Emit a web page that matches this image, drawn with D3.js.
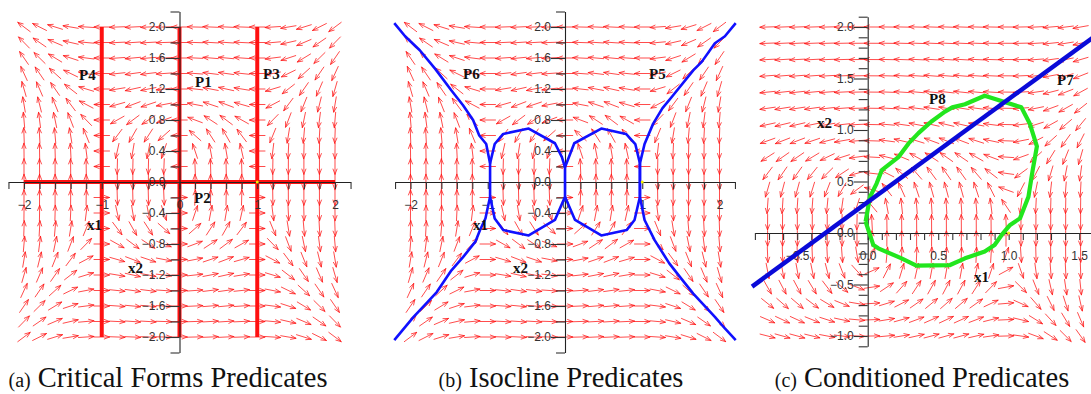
<!DOCTYPE html>
<html><head><meta charset="utf-8">
<script src="https://cdn.jsdelivr.net/npm/d3@7"></script>
<style>body{margin:0;background:#fff}svg{display:block}</style>
</head><body>
<svg id="chart" width="1091" height="394"></svg>
<script>
// ---------- DATA ----------
// Panels (a) and (b): direction field on a 21x21 grid
const rowsAB = [2.0,1.8,1.6,1.4,1.2,1.0,0.8,0.6,0.4,0.2,0,-0.2,-0.4,-0.6,-0.8,-1.0,-1.2,-1.4,-1.6,-1.8,-2.0];
const colsAB = [-2.0,-1.8,-1.6,-1.4,-1.2,-1.0,-0.8,-0.6,-0.4,-0.2,0,0.2,0.4,0.6,0.8,1.0,1.2,1.4,1.6,1.8,2.0];
// horizontal component of each row, vertical component of each column
const uAB = [-8,-5.832,-4.096,-2.744,-1.728,-1,-0.512,-0.216,-0.064,-0.008,0,0.008,0.064,0.216,0.512,1,1.728,2.744,4.096,5.832,8];
const vAB = [6,4.032,2.496,1.344,0.528,0,-0.288,-0.384,-0.336,-0.192,0,0.192,0.336,0.384,0.288,0,-0.528,-1.344,-2.496,-4.032,-6];

// Panel (c): direction field grid
const rowsC = [-1.0,-0.842,-0.684,-0.526,-0.368,-0.211,-0.053,0.105,0.263,0.421,0.579,0.737,0.895,1.053,1.211,1.368,1.526,1.684,1.842,2.0];
const uC = [1.0,0.597,0.320,0.146,0.050,0.0093,0.00015,-0.0012,-0.0182,-0.0747,-0.194,-0.400,-0.716,-1.166,-1.774,-2.562,-3.556,-4.777,-6.251,-8.0];
const colsC = [-0.71,-0.604,-0.499,-0.393,-0.287,-0.182,-0.076,0.030,0.136,0.241,0.347,0.453,0.558,0.664,0.770,0.875,0.981,1.087,1.193,1.298,1.404,1.510];
const vC = [-0.352,-0.384,-0.375,-0.332,-0.263,-0.176,-0.0756,0.030,0.1335,0.227,0.305,0.360,0.384,0.371,0.3135,0.205,0.037,-0.197,-0.505,-0.889,-1.364,-1.933];

// Panel (a): critical forms (vertical lines x1 = c, horizontal line x2 = 0)
const critX1 = [-1, 0, 1];
const critX2 = [0];
const critExtent = [-2, 2];

// Panel (b): isocline curves
const isoLeftOuter = [[-2.21,2.05],[-2.07,1.88],[-1.88,1.70],[-1.68,1.46],[-1.47,1.18],[-1.32,0.99],[-1.19,0.80],[-1.11,0.60],[-1.02,0.49],[-0.97,0.24],[-0.97,-0.19],[-1.03,-0.47],[-1.10,-0.62],[-1.16,-0.77],[-1.32,-0.97],[-1.47,-1.14],[-1.66,-1.42],[-1.78,-1.55],[-1.96,-1.74],[-2.21,-2.04]];
const isoLeftLoop = [[-0.97,0.24],[-0.91,0.49],[-0.80,0.62],[-0.47,0.69],[-0.13,0.50],[-0.04,0.32],[0,0.19],[0,-0.19],[-0.13,-0.49],[-0.47,-0.69],[-0.80,-0.62],[-0.91,-0.47],[-0.97,-0.19]];
const isoRightLoop = [[0,0.19],[0.12,0.50],[0.47,0.69],[0.79,0.62],[0.91,0.49],[0.97,0.24],[0.97,-0.19],[0.90,-0.49],[0.80,-0.62],[0.47,-0.69],[0.13,-0.49],[0,-0.19]];
const isoRightOuter = [[2.21,2.05],[2.07,1.88],[1.94,1.79],[1.77,1.55],[1.66,1.44],[1.40,1.12],[1.26,0.95],[1.14,0.75],[1.03,0.49],[0.97,0.24],[0.97,-0.19],[1.03,-0.49],[1.16,-0.75],[1.35,-1.05],[1.50,-1.24],[1.66,-1.44],[1.94,-1.74],[2.07,-1.89],[2.21,-2.04]];

// Panel (c): conditioned predicates
const lineP7 = [[-0.82,-0.52],[1.66,1.96]];
const curveP8 = [[-0.015,0.11],[0.016,0.35],[0.063,0.48],[0.10,0.61],[0.22,0.74],[0.29,0.87],[0.36,0.97],[0.45,1.08],[0.548,1.178],[0.60,1.22],[0.69,1.25],[0.83,1.333],[1.09,1.22],[1.15,1.06],[1.20,0.84],[1.17,0.61],[1.14,0.352],[1.08,0.142],[1.01,0.078],[0.95,-0.019],[0.90,-0.117],[0.83,-0.18],[0.69,-0.246],[0.584,-0.311],[0.345,-0.317],[0.24,-0.246],[0.075,-0.149],[0.04,-0.117],[-0.015,0.11]];

const eqPoint = [1, 0];

// ---------- LAYOUT ----------
const svg = d3.select("#chart");
const serif = "'Liberation Serif','Times New Roman',serif";
const sans = "'Liberation Sans',Arial,sans-serif";
const RED = "#ff1010";

const panels = [
  { id:"a", x:d3.scaleLinear([-2,2],[24,335]), y:d3.scaleLinear([-2,2],[337,27]),
    xAxisExt:[-2.2,2.2], yAxisExt:[-2.2,2.2], xStep:0.2, yStep:0.2, xMajor:1, yMajor:0.4, xLim:2, yLim:2, xFmt:d3.format("d"), yFmt:d3.format(".1f"),
    rows:rowsAB, cols:colsAB, U:uAB, V:vAB,
    labels:[["P4",79,80],["P1",195,87],["P3",263,79],["P2",194,203],["x1",87,230],["x2",128,273]],
    caption:["(a)"," Critical Forms Predicates"], capX:168 },
  { id:"b", x:d3.scaleLinear([-2,2],[410.5,719.5]), y:d3.scaleLinear([-2,2],[337,27]),
    xAxisExt:[-2.2,2.2], yAxisExt:[-2.2,2.2], xStep:0.2, yStep:0.2, xMajor:1, yMajor:0.4, xLim:2, yLim:2, xFmt:d3.format("d"), yFmt:d3.format(".1f"),
    rows:rowsAB, cols:colsAB, U:uAB, V:vAB,
    labels:[["P6",463,79],["P5",649,79],["x1",473,230],["x2",513,273]],
    caption:["(b)"," Isocline Predicates"], capX:561 },
  { id:"c", x:d3.scaleLinear([0,1],[867.7,1008.7]), y:d3.scaleLinear([0,1],[233,130]),
    xAxisExt:[-0.8,1.6], yAxisExt:[-1.1,2.1], xStep:0.1, yStep:0.1, xMajor:0.5, yMajor:0.5, xLim:1.5, yLim:2, xFmt:d3.format(".1f"), yFmt:d3.format(".1f"),
    rows:rowsC, cols:colsC, U:uC, V:vC,
    labels:[["P7",1057,85],["P8",929,104],["x2",817,128],["x1",974,282]],
    caption:["(c)"," Conditioned Predicates"], capX:922 }
];

const ARROW_LEN = 15.5;

function drawField(g, p) {
  const paths = [];
  p.rows.forEach((yv, i) => {
    p.cols.forEach((xv, j) => {
      const u = p.U[i], v = p.V[j];
      if (u === 0 && v === 0) return;
      const cx = p.x(xv), cy = p.y(yv);
      const e = 1e-3 / Math.hypot(u, v);
      let dx = p.x(xv + e*u) - cx, dy = p.y(yv + e*v) - cy;
      const n = Math.hypot(dx, dy); dx /= n; dy /= n;
      const h = ARROW_LEN/2;
      const tx = cx + dx*h, ty = cy + dy*h;
      const sx = cx - dx*h, sy = cy - dy*h;
      const hl = 5.2, hw = 2.0;
      const bx = tx - dx*hl, by = ty - dy*hl;
      const px = -dy, py = dx;
      paths.push(`M${sx.toFixed(2)},${sy.toFixed(2)}L${tx.toFixed(2)},${ty.toFixed(2)}M${(bx+px*hw).toFixed(2)},${(by+py*hw).toFixed(2)}L${tx.toFixed(2)},${ty.toFixed(2)}L${(bx-px*hw).toFixed(2)},${(by-py*hw).toFixed(2)}`);
    });
  });
  g.append("path").attr("d", paths.join("")).attr("fill","none")
    .attr("stroke", RED).attr("stroke-width", 0.75).attr("stroke-linecap","round");
}

function ticksFor(ext, step) {
  const k0 = Math.round(ext[0]/step), k1 = Math.round(ext[1]/step);
  return d3.range(k0, k1+1).map(k => +(k*step).toFixed(4));
}
function isMajor(d, m) { const r = d/m; return Math.abs(r - Math.round(r)) < 1e-6; }

function drawAxes(g, p) {
  const x0 = p.x(0), y0 = p.y(0);
  const xs = p.x.copy().domain(p.xAxisExt).range(p.xAxisExt.map(p.x));
  const xt = ticksFor(p.xAxisExt, p.xStep);
  const xLab = d => (isMajor(d, p.xMajor) && Math.abs(d) <= p.xLim) ? p.xFmt(d) : "";
  const gx = g.append("g").attr("transform", `translate(0,${y0})`)
    .call(d3.axisBottom(xs).tickValues(xt).tickSize(7).tickSizeOuter(0).tickPadding(11).tickFormat(xLab));
  const ys = p.y.copy().domain(p.yAxisExt).range(p.yAxisExt.map(p.y));
  const yt = ticksFor(p.yAxisExt, p.yStep);
  const yLab = d => (isMajor(d, p.yMajor) && Math.abs(d) <= p.yLim) ? p.yFmt(d) : "";
  const gy = g.append("g").attr("transform", `translate(${x0},0)`)
    .call(d3.axisLeft(ys).tickValues(yt).tickSize(9).tickSizeOuter(0).tickPadding(2).tickFormat(yLab));
  gy.selectAll(".tick").each(function(d){
    const t = d3.select(this);
    if (yLab(d) !== "") { t.select("line").attr("x2", -14); t.select("text").attr("x", -14); }
  });
  [gx, gy].forEach(a => {
    a.select(".domain").attr("stroke", "#222").attr("stroke-width", 1.1);
    a.selectAll(".tick line").attr("stroke", "#333").attr("stroke-width", 1.1);
    a.selectAll(".tick text").attr("fill", "#333").attr("font-family", sans).attr("font-size", 12);
  });
}

panels.forEach(p => {
  const g = svg.append("g").attr("class", "panel-" + p.id);
  drawField(g, p);
  const line = d3.line().x(d => p.x(d[0])).y(d => p.y(d[1]));
  if (p.id === "a") {
    critX1.forEach(c => g.append("path").attr("d", line([[c, critExtent[0]], [c, critExtent[1]]]))
      .attr("stroke", RED).attr("stroke-width", 4).attr("fill", "none"));
    critX2.forEach(c => g.append("path").attr("d", line([[critExtent[0], c], [critExtent[1], c]]))
      .attr("stroke", RED).attr("stroke-width", 4).attr("fill", "none"));
  }
  drawAxes(g, p);
  if (p.id === "b") {
    [isoLeftOuter, isoLeftLoop, isoRightLoop, isoRightOuter].forEach(c =>
      g.append("path").attr("d", line(c)).attr("fill", "none").attr("stroke", "#1010ff")
        .attr("stroke-width", 2.6).attr("stroke-linejoin", "round"));
  }
  if (p.id === "c") {
    g.append("path").attr("d", line(curveP8)).attr("fill", "none").attr("stroke", "#22e61e")
      .attr("stroke-width", 4.2).attr("stroke-linejoin", "round");
    g.append("path").attr("d", line(lineP7)).attr("fill", "none").attr("stroke", "#0a0ad8")
      .attr("stroke-width", 4.5);
  }
  g.append("circle").attr("cx", p.x(eqPoint[0])).attr("cy", p.y(eqPoint[1])).attr("r", 1.5).attr("fill", "#f2f200");
  p.labels.forEach(([t, lx, ly]) => {
    g.append("text").attr("x", lx).attr("y", ly).attr("font-family", serif)
      .attr("font-weight", "bold").attr("font-size", 15).attr("fill", "#111").text(t);
  });
  const cap = svg.append("text").attr("x", p.capX).attr("y", 387).attr("text-anchor", "middle")
    .attr("font-family", serif).attr("font-size", 28.5).attr("fill", "#111");
  cap.append("tspan").attr("font-size", 20).text(p.caption[0]);
  cap.append("tspan").text(p.caption[1]);
});
</script>
</body></html>
